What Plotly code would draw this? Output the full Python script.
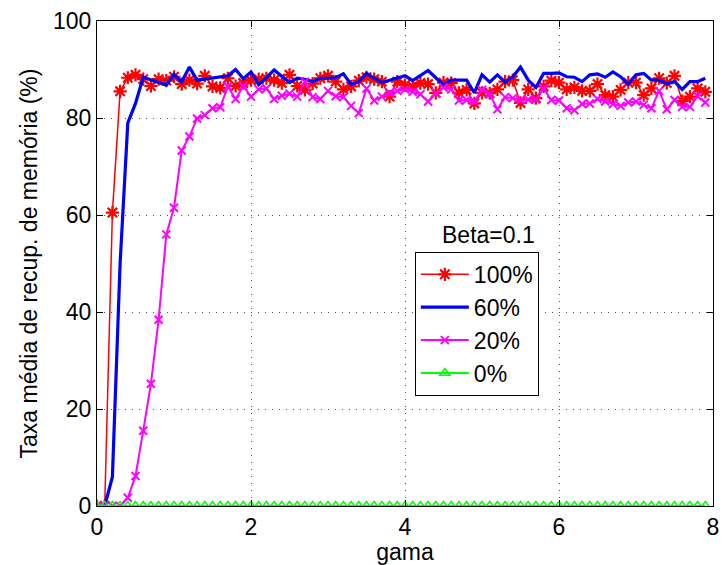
import plotly.graph_objects as go

gama = [round(i * 0.1, 1) for i in range(80)]

r100 = [0, 0, 60.5, 85.5, 88.3, 88.9, 88.0, 86.6, 88.0, 87.7,
        88.5, 87.0, 87.8, 87.1, 88.7, 86.5, 86.2, 88.2, 86.6, 87.2,
        87.8, 88.0, 88.2, 87.8, 87.2, 88.9, 86.6, 85.8, 87.1, 88.2,
        88.7, 87.5, 85.9, 86.5, 87.7, 88.4, 88.0, 87.5, 84.4, 87.5,
        86.8, 86.5, 87.2, 87.0, 85.2, 87.3, 87.2, 85.2, 85.8, 83.0,
        85.2, 85.1, 85.9, 87.5, 87.8, 83.1, 85.9, 84.1, 86.5, 87.7,
        87.3, 85.9, 86.3, 85.6, 85.6, 87.0, 84.7, 84.4, 85.8, 87.3,
        87.3, 84.7, 86.1, 88.2, 87.2, 88.7, 83.5, 84.4, 86.1, 85.4]

b60 = [0, 0, 6, 50, 79, 83, 88.4, 87.9, 87.3, 86.8,
       89.0, 87.5, 90.5, 87.8, 88.0, 88.2, 88.4, 88.7, 90.0, 88.1,
       89.5, 86.9, 88.3, 89.9, 88.6, 87.3, 88.2, 88.0, 87.5, 88.2,
       88.2, 88.3, 89.1, 86.9, 87.5, 89.2, 88.2, 87.3, 87.8, 88.2,
       88.7, 87.7, 88.7, 89.8, 88.3, 86.8, 87.8, 87.8, 87.8, 85.2,
       88.9, 87.4, 88.9, 87.4, 88.5, 90.5, 87.8, 86.3, 89.2, 89.2,
       89.3, 88.5, 88.4, 87.5, 88.9, 89.1, 88.4, 89.5, 88.5, 87.0,
       88.9, 89.2, 87.8, 87.8, 87.1, 87.5, 85.9, 87.5, 87.5, 88.2]

m20 = [0, 0, 0, 0, 1.7, 6.2, 15.5, 25.2, 38.4, 56.0,
       61.5, 73.3, 76.2, 79.9, 80.6, 82.0, 82.2, 86.5, 83.9, 86.6,
       84.4, 85.9, 86.1, 83.9, 84.6, 85.0, 84.4, 87.5, 84.3, 83.9,
       85.6, 84.5, 84.3, 82.5, 81.0, 86.1, 83.6, 84.4, 85.2, 85.6,
       85.9, 85.4, 84.9, 83.4, 85.1, 86.3, 85.9, 83.6, 83.7, 83.4,
       85.8, 84.9, 81.8, 84.3, 84.1, 83.7, 83.8, 83.8, 86.1, 83.7,
       83.6, 82.0, 81.6, 82.9, 83.0, 83.9, 83.4, 82.9, 82.5, 83.2,
       83.4, 82.7, 82.0, 85.6, 81.8, 83.7, 82.3, 82.3, 84.5, 83.2]

g0 = [0] * 80

series_names = ["100%", "60%", "20%", "0%"]
x_ticks = [0, 2, 4, 6, 8]
y_ticks = [0, 20, 40, 60, 80, 100]

FONT = "Liberation Sans, Arial, sans-serif"
FS = 23

fig = go.Figure()
fig.add_trace(go.Scatter(x=gama, y=r100, name=series_names[0], mode="lines+markers",
                         line=dict(color="#ff0000", width=1.5),
                         marker=dict(symbol="asterisk-open", size=11, color="#ff0000",
                                     line=dict(color="#ff0000", width=2.2))))
fig.add_trace(go.Scatter(x=gama, y=b60, name=series_names[1], mode="lines",
                         line=dict(color="#0000ff", width=3.2)))
fig.add_trace(go.Scatter(x=gama, y=m20, name=series_names[2], mode="lines+markers",
                         line=dict(color="#ff00ff", width=2),
                         marker=dict(symbol="x-thin-open", size=8, color="#ff00ff",
                                     line=dict(color="#ff00ff", width=2))))
fig.add_trace(go.Scatter(x=gama, y=g0, name=series_names[3], mode="lines+markers",
                         line=dict(color="#00ff00", width=2),
                         marker=dict(symbol="triangle-up-open", size=9, color="#00ff00",
                                     line=dict(color="#00ff00", width=1.5))))

axis_common = dict(showline=True, linecolor="black", linewidth=1, mirror="ticks",
                   ticks="inside", ticklen=6, tickcolor="black",
                   showgrid=True, gridcolor="#555555", griddash="1px,6px", gridwidth=1,
                   zeroline=False, automargin=False,
                   tickfont=dict(size=FS, color="black", family=FONT))

fig.update_xaxes(range=[0, 8], tickvals=x_ticks,
                 title=dict(text="gama", standoff=0,
                            font=dict(size=FS, color="black", family=FONT)), **axis_common)
fig.update_yaxes(range=[0, 100], tickvals=y_ticks,
                 title=dict(text="Taxa média de recup. de memória (%)", standoff=8,
                            font=dict(size=FS, color="black", family=FONT)), **axis_common)

fig.update_layout(
    width=723, height=565,
    margin=dict(l=97, r=10, t=21, b=59),
    paper_bgcolor="white", plot_bgcolor="white",
    font=dict(family=FONT, size=FS, color="black"),
    showlegend=True,
    legend=dict(x=0.516, y=0.524, xanchor="left", yanchor="top",
                bordercolor="black", borderwidth=1, bgcolor="white",
                font=dict(size=FS, family=FONT, color="black"),
                itemwidth=48, tracegroupgap=0),
    annotations=[dict(text="Beta=0.1", xref="paper", yref="paper",
                      x=0.635, y=0.528, xanchor="center", yanchor="bottom",
                      showarrow=False, font=dict(size=FS, family=FONT, color="black"))],
)

fig.write_html("out.html")
